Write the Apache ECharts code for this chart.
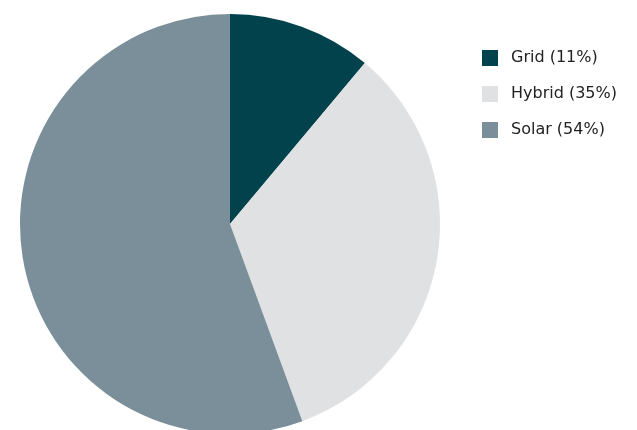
<!DOCTYPE html>
<html>
<head>
<meta charset="utf-8">
<script src="https://cdn.jsdelivr.net/npm/echarts@6/dist/echarts.min.js"></script>
<style>
  html, body { margin: 0; padding: 0; background: #fff; }
  #chart { width: 637px; height: 430px; }
</style>
</head>
<body>
<div id="chart"></div>
<script>
const categories = ["Grid", "Hybrid", "Solar"];
const values = [11.1, 33.3, 55.6];
const shareLabels = ["11%", "35%", "54%"];
const colors = ["#02424d", "#e0e1e3", "#7a8f9a"];

const chart = echarts.init(document.getElementById("chart"));

const option = {
  animation: false,
  color: colors,
  legend: {
    orient: "vertical",
    left: 482,
    top: 50,
    padding: 0,
    itemWidth: 16,
    itemHeight: 16,
    itemGap: 20,
    icon: "rect",
    textStyle: {
      fontFamily: "DejaVu Sans",
      fontSize: 16,
      color: "#222",
      padding: [0, 0, 0, 8]
    },
    formatter: (name) => {
      const i = categories.indexOf(name);
      return name + " (" + shareLabels[i] + ")";
    }
  },
  series: [
    {
      type: "pie",
      center: [230, 224],
      radius: 210,
      startAngle: 90,
      clockwise: true,
      label: { show: false },
      labelLine: { show: false },
      itemStyle: { borderWidth: 0 },
      emphasis: { disabled: true },
      data: categories.map((c, i) => ({ name: c, value: values[i] }))
    }
  ]
};

chart.setOption(option);
</script>
</body>
</html>
